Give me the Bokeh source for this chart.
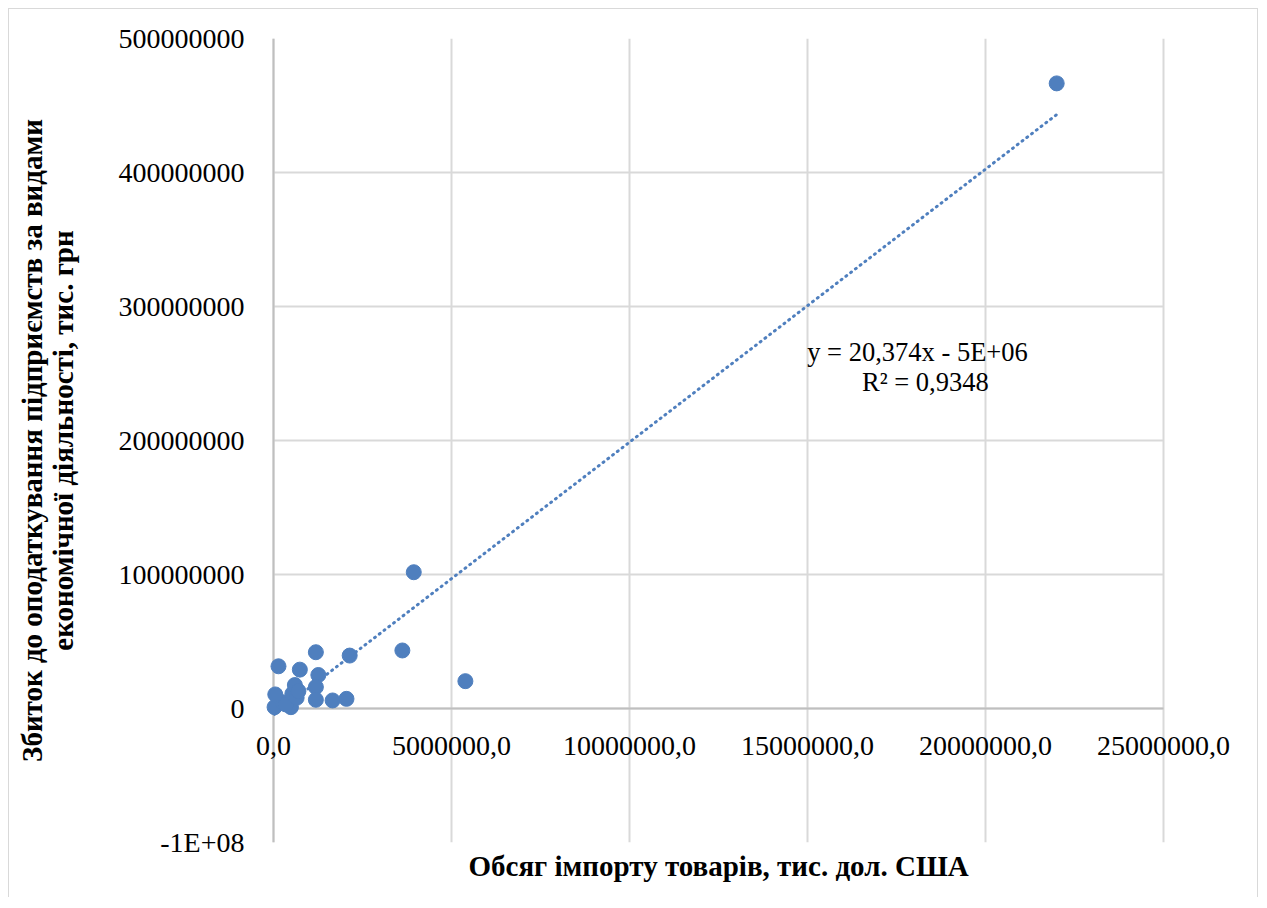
from bokeh.plotting import figure
from bokeh.models import Range1d, FixedTicker, Label, LabelSet, Title, ColumnDataSource
from bokeh.embed import file_html
from bokeh.resources import INLINE

# ---- data ----
import_volume = [30000, 250000, 490000, 350000, 50000, 530000, 650000, 600000,
                 140000, 740000, 1190000, 1260000, 1190000, 1190000, 1660000,
                 2050000, 2140000, 3620000, 3940000, 5390000, 22000000, 700000]
loss_before_tax = [1000000, 4700000, 1000000, 3000000, 10500000, 11000000, 8000000,
                   17500000, 31500000, 29000000, 42000000, 25000000, 16000000,
                   6500000, 6000000, 7200000, 39500000, 43300000, 101700000,
                   20400000, 466500000, 13000000]

x_ticks = [0, 5000000, 10000000, 15000000, 20000000, 25000000]
x_tick_labels = ["0,0", "5000000,0", "10000000,0", "15000000,0", "20000000,0", "25000000,0"]
y_ticks = [-100000000, 0, 100000000, 200000000, 300000000, 400000000, 500000000]
y_tick_labels = ["-1E+08", "0", "100000000", "200000000", "300000000", "400000000", "500000000"]

trend_slope = 20.374
trend_intercept = -5e6
trend_text = "y = 20,374x - 5E+06"
r2_text = "R² = 0,9348"

x_title = "Обсяг імпорту товарів, тис. дол. США"
y_title = "Збиток до оподаткування підприємств за видами\nекономічної діяльності, тис. грн"

# ---- styles / layout ----
BLUE = "#4F7FBE"
GRID = "#D9D9D9"
AXIS = "#BFBFBF"
FONT = "Liberation Serif"

PX_PER_UNIT = 890 / (x_ticks[-1] - x_ticks[0])   # plot area 890 px wide
PAD_L, PAD_R = 18, 72                            # room for overflowing x tick labels
x_start = x_ticks[0] - PAD_L / PX_PER_UNIT
x_end = x_ticks[-1] + PAD_R / PX_PER_UNIT

p = figure(frame_width=890 + PAD_L + PAD_R, frame_height=804,
           min_border_left=246, min_border_right=22,
           min_border_top=29, min_border_bottom=55,
           x_range=Range1d(x_start, x_end), y_range=Range1d(y_ticks[0], y_ticks[-1]),
           output_backend="svg", toolbar_location=None,
           background_fill_color="white", border_fill_color="white")
p.styles = {"margin-left": "8px", "margin-top": "8px",
            "border-left": "1px solid #D9D9D9", "border-top": "1px solid #D9D9D9",
            "border-right": "1px solid #D9D9D9"}
p.outline_line_color = None

p.xgrid.ticker = FixedTicker(ticks=x_ticks)
p.ygrid.ticker = FixedTicker(ticks=y_ticks)
p.xgrid.cross_bounds = (y_ticks[0], y_ticks[-1])
p.ygrid.cross_bounds = (x_ticks[0], x_ticks[-1])
for g in (p.xgrid[0], p.ygrid[0]):
    g.grid_line_color = GRID
    g.grid_line_width = 2

# axis lines through the origin
p.segment(x0=[x_ticks[0]], y0=[0], x1=[x_ticks[-1]], y1=[0], line_color=AXIS, line_width=2)
p.segment(x0=[0], y0=[y_ticks[0]], x1=[0], y1=[y_ticks[-1]], line_color=AXIS, line_width=2)

# x tick labels sit just below the zero line
p.xaxis.visible = False
tick_src = ColumnDataSource(dict(x=x_ticks, y=[0] * len(x_ticks), text=x_tick_labels))
p.add_layout(LabelSet(x="x", y="y", text="text", source=tick_src,
                      y_offset=-37, text_align="center", text_baseline="middle",
                      text_font=FONT, text_font_size="28px", text_color="black"))

ya = p.yaxis[0]
ya.ticker = FixedTicker(ticks=y_ticks)
ya.major_label_overrides = {t: l for t, l in zip(y_ticks, y_tick_labels)}
ya.axis_line_color = None
ya.major_tick_in = 0
ya.major_tick_out = 0
ya.minor_tick_in = 0
ya.minor_tick_out = 0
ya.major_label_standoff = 11
ya.major_label_text_font = FONT
ya.major_label_text_font_size = "28px"
ya.major_label_text_color = "black"
ya.axis_label = y_title
ya.axis_label_text_font = FONT
ya.axis_label_text_font_style = "bold"
ya.axis_label_text_font_size = "29px"
ya.axis_label_text_line_height = 0.95
ya.axis_label_text_color = "black"
ya.axis_label_standoff = 37

p.add_layout(Title(text=x_title, align="left", text_font=FONT,
                   text_font_style="bold", text_font_size="29px",
                   text_color="black", offset=213), "below")

# trendline (from the chart's own equation), spanning the data range
tx = [min(import_volume), max(import_volume)]
ty = [trend_slope * v + trend_intercept for v in tx]
p.line(tx, ty, line_color=BLUE, line_width=3, line_dash="1 5", line_cap="round")

src = ColumnDataSource(dict(x=import_volume, y=loss_before_tax))
p.scatter("x", "y", source=src, size=15, fill_color=BLUE, line_color=BLUE)

p.add_layout(Label(x=18090000, y=265700000, text=trend_text, text_align="center",
                   text_baseline="middle", text_font=FONT, text_font_size="26.5px",
                   text_color="black"))
p.add_layout(Label(x=18310000, y=243300000, text=r2_text, text_align="center",
                   text_baseline="middle", text_font=FONT, text_font_size="26.5px",
                   text_color="black"))

open("out.html", "w").write(file_html(p, INLINE))
